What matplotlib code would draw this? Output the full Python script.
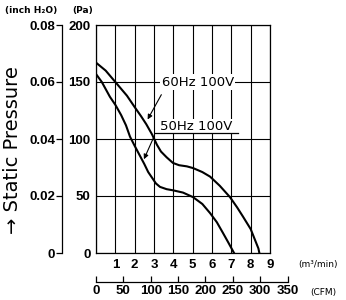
import matplotlib
matplotlib.use("Agg")
import matplotlib.pyplot as plt

# data (m3/min vs Pa)
q60 = [0, 0.5, 1.0, 1.3, 1.6, 2.0, 2.33, 2.6, 2.9, 3.15, 3.36, 3.65, 3.98, 4.3,
       4.7, 5.02, 5.5, 5.9, 6.4, 6.93, 7.3, 7.6, 8.0, 8.4, 8.45]
p60 = [167, 160, 150, 144, 138, 128, 120, 113, 104, 95, 89, 84, 79, 77,
       76, 74.5, 71, 67, 59, 49, 40, 32, 21, 4, 0]
q50 = [0, 0.3, 0.72, 1.0, 1.3, 1.55, 1.76, 2.0, 2.25, 2.5, 2.7, 2.9, 3.1, 3.31,
       3.65, 3.98, 4.5, 5.02, 5.5, 5.9, 6.25, 6.57, 6.85, 7.14]
p50 = [157, 150, 137, 130, 121, 112, 102, 94, 86, 78, 71, 66, 61, 58,
       56, 55, 53, 49, 43, 35, 27, 17.5, 9, 0]

pa_ticks = [0, 50, 100, 150, 200]
inch_ticks = [0, 0.02, 0.04, 0.06, 0.08]
inch_labels = ["0", "0.02", "0.04", "0.06", "0.08"]
m3_ticks = [1, 2, 3, 4, 5, 6, 7, 8, 9]
cfm_ticks = [0, 50, 100, 150, 200, 250, 300, 350]

fnt = ["Liberation Sans Narrow", "Liberation Sans", "DejaVu Sans"]
W, H = 346.0, 300.0

fig = plt.figure(figsize=(3.46, 3.0), dpi=100)
ax = fig.add_axes([96 / W, 1 - 253 / H, 174 / W, 228 / H])

ax.plot(q60, p60, color="black", lw=1.5)
ax.plot(q50, p50, color="black", lw=1.5)
ax.set_xlim(0, 9)
ax.set_ylim(0, 200)
ax.set_xticks(range(0, 10))
ax.set_yticks(pa_ticks)
ax.grid(True, color="black", lw=0.8)
for s in ax.spines.values():
    s.set_linewidth(0.9)
ax.tick_params(length=0, pad=4)
ax.set_xticklabels([""] + [str(t) for t in m3_ticks], fontfamily=fnt, fontsize=9.5, fontweight="bold")
ax.set_yticklabels([str(t) for t in pa_ticks], fontfamily=fnt, fontsize=9.5, fontweight="bold")

# curve labels
ax.text(3.4, 150, "60Hz 100V", fontsize=9.5, ha="left", va="center",
        bbox=dict(facecolor="white", edgecolor="none", pad=1))
ax.annotate("", xy=(2.6, 115), xytext=(3.45, 141),
            arrowprops=dict(arrowstyle="-|>", color="black", lw=0.8, mutation_scale=7))
ax.text(3.3, 111, "50Hz 100V", fontsize=9.5, ha="left", va="center",
        bbox=dict(facecolor="white", edgecolor="none", pad=1))
ax.plot([3.05, 7.34], [105, 105], color="black", lw=0.9, zorder=5)
ax.annotate("", xy=(2.42, 80), xytext=(3.05, 104),
            arrowprops=dict(arrowstyle="-|>", color="black", lw=0.8, mutation_scale=7))

# inch H2O axis
axi = fig.add_axes([62 / W, 1 - 253 / H, 0.001, 228 / H])
axi.set_ylim(0, 0.08)
axi.set_xticks([])
axi.set_yticks(inch_ticks)
axi.set_yticklabels(inch_labels, fontfamily=fnt, fontsize=9.5, fontweight="bold")
for k in ["top", "right", "bottom"]:
    axi.spines[k].set_visible(False)
axi.spines["left"].set_linewidth(0.9)
axi.tick_params(length=4, width=0.9, pad=1)
axi.patch.set_visible(False)

# CFM axis
cfm_w = 350 / 35.315 * 174 / 9
axc = fig.add_axes([96 / W, 1 - 282 / H, cfm_w / W, 0.001])
axc.set_xlim(0, 350)
axc.set_yticks([])
axc.set_xticks(cfm_ticks)
axc.set_xticklabels([str(t) for t in cfm_ticks], fontfamily=fnt, fontsize=9.5, fontweight="bold")
for k in ["top", "right", "left"]:
    axc.spines[k].set_visible(False)
axc.spines["bottom"].set_linewidth(0.9)
axc.tick_params(direction="in", length=4, width=0.9, pad=2)
axc.patch.set_visible(False)

# unit labels
fig.text(5 / W, 1 - 10 / H, "(inch H₂O)", fontsize=6.5, fontweight="bold", va="center")
fig.text(72 / W, 1 - 10 / H, "(Pa)", fontsize=6.5, fontweight="bold", va="center")
fig.text(298 / W, 1 - 265 / H, "(m³/min)", fontsize=6.5, va="center")
fig.text(310 / W, 1 - 292 / H, "(CFM)", fontsize=6.5, va="center")
fig.text(13 / W, 1 - 150 / H, "→ Static Pressure", fontsize=14, rotation=90,
         ha="center", va="center")

fig.savefig("out.png", dpi=100)
